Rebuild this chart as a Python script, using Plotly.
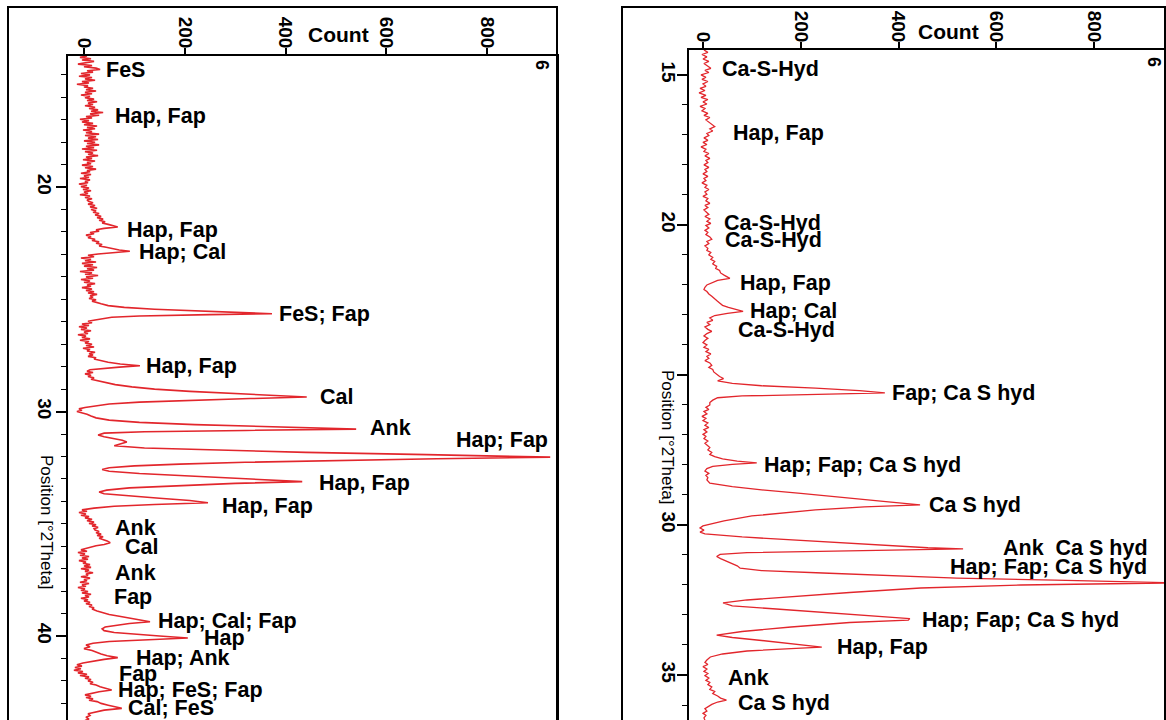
import plotly.graph_objects as go

# ---------------- data: left pattern ----------------
left_theta = [14.16,14.22,14.28,14.34,14.40,14.46,14.52,14.58,14.64,14.70,14.76,14.82,14.88,14.94,15.00,15.06,15.12,15.18,15.24,15.30,
15.36,15.42,15.48,15.54,15.60,15.66,15.72,15.78,15.84,15.90,15.96,16.02,16.08,16.14,16.20,16.26,16.32,16.38,16.44,16.50,
16.56,16.62,16.68,16.74,16.80,16.86,16.92,16.98,17.04,17.10,17.16,17.22,17.28,17.34,17.40,17.46,17.52,17.58,17.64,17.70,
17.76,17.82,17.88,17.94,18.00,18.06,18.12,18.18,18.24,18.30,18.36,18.42,18.48,18.54,18.60,18.66,18.72,18.78,18.84,18.90,
18.96,19.02,19.08,19.14,19.20,19.26,19.32,19.38,19.44,19.50,19.56,19.62,19.68,19.74,19.80,19.86,19.92,19.98,20.04,20.10,
20.16,20.22,20.28,20.34,20.40,20.46,20.52,20.58,20.64,20.70,20.76,20.82,20.88,20.94,21.00,21.06,21.12,21.18,21.24,21.30,
21.36,21.42,21.48,21.54,21.60,21.66,21.72,21.78,21.84,21.90,21.96,22.02,22.08,22.14,22.20,22.26,22.32,22.38,22.44,22.50,
22.56,22.62,22.68,22.74,22.80,22.86,22.92,22.98,23.04,23.10,23.16,23.22,23.28,23.34,23.40,23.46,23.52,23.58,23.64,23.70,
23.76,23.82,23.88,23.94,24.00,24.06,24.12,24.18,24.24,24.30,24.36,24.42,24.48,24.54,24.60,24.66,24.72,24.78,24.84,24.90,
24.96,25.02,25.08,25.14,25.20,25.28,25.36,25.44,25.52,25.60,25.64,25.68,25.74,25.80,25.86,25.92,25.98,26.04,26.10,26.16,
26.22,26.28,26.34,26.40,26.46,26.52,26.58,26.64,26.70,26.76,26.82,26.88,26.94,27.00,27.06,27.12,27.18,27.24,27.30,27.36,
27.42,27.48,27.54,27.60,27.66,27.72,27.80,27.88,27.96,28.02,28.08,28.14,28.20,28.26,28.32,28.38,28.44,28.50,28.56,28.62,
28.70,28.80,28.90,29.00,29.10,29.20,29.28,29.35,29.42,29.50,29.58,29.66,29.74,29.82,29.88,29.94,30.00,30.06,30.12,30.20,
30.28,30.38,30.48,30.58,30.66,30.72,30.78,30.84,30.90,30.96,31.04,31.12,31.20,31.28,31.36,31.44,31.52,31.62,31.72,31.82,
31.92,32.03,32.10,32.18,32.26,32.34,32.42,32.50,32.58,32.66,32.76,32.86,32.96,33.05,33.12,33.20,33.30,33.40,33.50,33.58,
33.66,33.76,33.86,33.96,34.06,34.14,34.22,34.30,34.38,34.44,34.50,34.56,34.62,34.68,34.74,34.80,34.86,34.92,34.98,35.04,
35.10,35.16,35.22,35.28,35.34,35.40,35.46,35.52,35.58,35.64,35.70,35.76,35.84,35.92,35.98,36.04,36.10,36.16,36.22,36.28,
36.34,36.40,36.46,36.52,36.58,36.64,36.70,36.76,36.82,36.88,36.94,37.00,37.06,37.12,37.18,37.24,37.30,37.36,37.42,37.48,
37.54,37.60,37.66,37.72,37.78,37.84,37.90,37.96,38.02,38.08,38.14,38.20,38.26,38.32,38.38,38.44,38.50,38.56,38.62,38.68,
38.74,38.80,38.88,38.96,39.04,39.12,39.20,39.28,39.36,39.44,39.52,39.60,39.68,39.76,39.84,39.92,40.00,40.09,40.16,40.24,
40.32,40.40,40.48,40.56,40.64,40.72,40.80,40.88,40.96,41.04,41.12,41.20,41.28,41.34,41.40,41.46,41.52,41.58,41.64,41.70,
41.76,41.82,41.88,41.94,42.00,42.06,42.12,42.18,42.26,42.34,42.40,42.48,42.56,42.62,42.68,42.74,42.80,42.86,42.92,43.00,
43.08,43.16,43.22,43.30,43.38,43.46,43.54,43.62,43.70,43.76]
left_count = [6,-8,14,-4,20,2,-12,16,0,24,32,6,18,-6,12,-10,16,2,22,-4,
10,-14,8,0,18,4,24,2,16,-6,12,2,20,6,26,8,18,2,22,10,
28,14,38,12,30,4,16,-8,10,-4,18,0,26,6,22,-2,16,4,30,2,
24,8,28,0,22,6,30,4,20,-4,26,2,18,8,28,4,16,-2,22,6,
14,-4,18,2,24,6,12,-6,14,0,10,-8,12,2,8,-10,6,-6,10,-2,
14,0,8,-8,12,2,16,6,10,18,8,22,12,26,14,24,18,30,22,34,
26,38,30,42,36,48,56,67,40,24,30,12,20,4,14,8,22,16,30,24,
36,30,44,56,70,91,56,28,8,20,-6,14,2,24,-4,18,0,26,6,20,
-8,16,2,28,4,18,-6,12,0,22,6,14,-4,16,4,20,8,26,12,18,
10,24,16,28,34,48,80,140,240,330,373,250,110,55,34,22,8,16,-4,10,
-10,6,-6,14,0,8,-12,4,-4,12,-8,10,2,16,4,20,-2,12,6,22,
10,18,8,24,20,32,48,72,111,70,34,12,6,18,2,14,8,20,14,26,
40,62,95,140,210,300,380,442,330,200,110,50,20,2,-10,-4,-14,-2,6,14,
24,50,110,220,340,440,540,320,120,40,28,40,60,76,85,70,60,120,260,440,
680,925,700,480,320,190,100,50,36,50,110,200,300,380,433,300,180,90,45,30,
40,90,150,210,246,140,60,20,-4,6,-10,4,-6,10,2,16,6,20,10,24,
16,28,20,22,30,24,34,26,38,30,40,46,52,40,24,14,4,-6,6,-12,
2,-8,10,-4,8,-10,4,-2,12,0,14,-6,10,2,18,4,8,-6,12,0,
6,-8,10,-4,4,-12,2,-6,8,-4,14,2,10,-6,8,0,12,4,16,10,
20,16,26,36,50,70,90,112,131,90,60,42,36,40,60,100,150,206,120,50,
18,4,12,0,16,24,34,46,67,40,16,-2,-14,-4,-18,-6,-20,-2,-12,6,
-8,10,2,14,8,18,12,24,32,44,55,30,12,2,14,4,18,10,26,34,
48,62,75,40,20,8,12,4,10,2]

# ---------------- data: right pattern ----------------
right_theta = [14.17,14.25,14.32,14.40,14.47,14.55,14.62,14.70,14.78,14.85,14.92,15.00,15.08,15.15,15.22,15.30,15.38,15.45,15.52,15.60,
15.68,15.75,15.82,15.90,15.97,16.05,16.12,16.20,16.28,16.35,16.42,16.50,16.57,16.65,16.72,16.80,16.87,16.95,17.02,17.10,
17.18,17.25,17.32,17.40,17.48,17.55,17.62,17.70,17.78,17.85,17.92,18.00,18.08,18.15,18.22,18.30,18.38,18.45,18.52,18.60,
18.68,18.75,18.82,18.90,18.98,19.05,19.12,19.20,19.28,19.35,19.42,19.50,19.58,19.65,19.72,19.80,19.88,19.95,20.02,20.10,
20.18,20.25,20.32,20.40,20.48,20.55,20.62,20.70,20.78,20.85,20.92,21.00,21.08,21.15,21.22,21.30,21.38,21.45,21.52,21.60,
21.68,21.78,21.85,21.92,22.00,22.08,22.15,22.22,22.30,22.38,22.45,22.52,22.60,22.68,22.75,22.82,22.88,22.95,23.02,23.10,
23.18,23.25,23.32,23.40,23.48,23.55,23.62,23.70,23.78,23.85,23.92,24.00,24.08,24.15,24.22,24.30,24.38,24.45,24.52,24.60,
24.68,24.75,24.82,24.90,24.98,25.05,25.12,25.20,25.28,25.36,25.44,25.52,25.60,25.65,25.70,25.76,25.84,25.92,26.00,26.08,
26.15,26.22,26.30,26.38,26.45,26.52,26.60,26.68,26.75,26.82,26.90,26.98,27.05,27.12,27.20,27.28,27.35,27.42,27.50,27.58,
27.65,27.72,27.80,27.87,27.93,27.98,28.05,28.12,28.20,28.28,28.35,28.42,28.50,28.61,28.72,28.83,28.95,29.05,29.15,29.25,
29.33,29.40,29.50,29.58,29.70,29.86,29.95,30.03,30.10,30.17,30.24,30.30,30.40,30.50,30.60,30.70,30.76,30.80,30.86,30.92,
30.98,31.05,31.12,31.20,31.28,31.36,31.44,31.52,31.60,31.68,31.77,31.84,31.89,31.93,32.00,32.10,32.25,32.40,32.50,32.60,
32.70,32.80,32.90,33.00,33.12,33.17,33.25,33.40,33.55,33.67,33.75,33.85,33.95,34.03,34.07,34.12,34.20,34.30,34.40,34.50,
34.58,34.65,34.72,34.80,34.88,34.95,35.02,35.10,35.18,35.25,35.32,35.40,35.48,35.55,35.62,35.70,35.77,35.84,35.90,35.98,
36.05,36.12,36.20,36.28,36.35,36.43,36.50]
right_count = [2,10,-2,8,0,12,2,8,16,4,12,-4,6,-2,10,0,6,-6,4,-8,
6,-4,10,0,8,-6,4,-2,10,2,14,6,12,18,24,14,20,8,12,2,
10,0,8,-4,6,2,12,4,14,6,10,2,12,4,8,0,10,2,6,-2,
8,4,12,4,8,0,10,6,14,4,10,2,8,12,4,14,8,16,6,12,
4,10,6,14,18,8,12,4,10,8,16,12,20,16,24,20,28,26,34,36,
44,55,30,18,8,4,2,8,12,18,22,28,34,40,52,66,82,50,24,14,
20,8,14,4,10,18,8,2,10,4,0,8,2,12,6,16,8,12,4,14,
18,12,20,22,28,34,42,30,60,120,230,320,372,200,80,30,20,14,14,6,
12,2,8,-2,6,0,10,4,12,2,8,0,6,2,10,4,8,14,10,18,
14,24,40,70,110,60,20,8,4,12,6,10,8,14,60,120,200,260,330,390,
444,330,230,178,100,43,18,0,-6,2,-6,4,80,180,280,390,460,532,300,90,
35,28,36,48,60,70,76,120,245,380,519,720,860,960,650,445,300,178,90,41,
60,150,240,330,423,420,300,180,80,28,60,120,180,230,243,180,90,40,15,8,
4,10,0,8,2,10,4,12,6,14,10,18,14,24,20,30,36,48,30,18,
10,4,8,0,6,2,4]

# ---------------- peak labels ----------------
left_labels = ["FeS","Hap, Fap","Hap, Fap","Hap; Cal","FeS; Fap","Hap, Fap","Cal","Ank","Hap; Fap","Hap, Fap","Hap, Fap",
               "Ank","Cal","Ank","Fap","Hap; Cal; Fap","Hap","Hap; Ank","Fap","Hap; FeS; Fap","Cal; FeS"]
left_label_count = [42,60,83,107,385,121,466,565,736,464,272,60,79,60,58,145,236,101,68,66,85]
left_label_theta = [14.79,16.84,21.92,22.90,25.66,27.97,29.35,30.73,31.27,33.18,34.21,35.19,36.04,37.19,38.26,39.33,40.09,40.98,41.69,42.40,43.20]

right_labels = ["Ca-S-Hyd","Hap, Fap","Ca-S-Hyd","Ca-S-Hyd","Hap, Fap","Hap; Cal","Ca-S-Hyd","Fap; Ca S hyd",
                "Hap; Fap; Ca S hyd","Ca S hyd","Ank\u00a0\u00a0Ca S hyd","Hap; Fap; Ca S hyd","Hap; Fap; Ca S hyd",
                "Hap, Fap","Ank","Ca S hyd"]
right_label_count = [37,59,40,42,74,95,70,385,123,461,611,504,445,272,50,70]
right_label_theta = [14.81,16.94,19.92,20.50,21.92,22.86,23.50,25.60,28.00,29.33,30.78,31.39,33.17,34.06,35.11,35.94]

left_xticks = [0, 200, 400, 600, 800]
right_xticks = [0, 200, 400, 600, 800]
left_yticks = [20, 30, 40]
left_yticktext = ["20", "30", "40"]
right_yticks = [15, 20, 25, 30, 35]
right_yticktext = ["15", "20", "", "30", "35"]

# ---------------- figure ----------------
W, H = 1166, 720
RED = "#e2262c"
FONT = "Liberation Sans, Arial, Helvetica, sans-serif"

def px(x):
    return x / W

def py(y):
    return 1 - y / H

fig = go.Figure()
fig.add_trace(go.Scatter(x=left_count, y=left_theta, mode="lines",
                         line=dict(color=RED, width=1.6), xaxis="x", yaxis="y", hoverinfo="skip"))
fig.add_trace(go.Scatter(x=right_count, y=right_theta, mode="lines",
                         line=dict(color=RED, width=1.3), xaxis="x2", yaxis="y2", hoverinfo="skip"))

tickfont = dict(family=FONT, size=19, color="black", weight="bold")
common_x = dict(side="top", ticks="outside", ticklen=6, tickwidth=1.5, tickcolor="black",
                tickangle=90, tickfont=tickfont, showline=True, linewidth=2, linecolor="black",
                showgrid=False, zeroline=False, ticklabelstandoff=-7)
common_y = dict(ticks="outside", ticklen=10, tickwidth=1.5, tickcolor="black", tickangle=90,
                tickfont=tickfont, showline=True, linewidth=2, linecolor="black", mirror=True,
                showgrid=False, zeroline=False,
                minor=dict(ticks="outside", dtick=1, tick0=0, ticklen=5, tickwidth=1.2, tickcolor="black"))

fig.update_layout(
    width=W, height=H, margin=dict(l=0, r=0, t=0, b=0, pad=0),
    paper_bgcolor="white", plot_bgcolor="white", showlegend=False,
    xaxis=dict(domain=[px(68), px(557)], anchor="y", range=[-31.7, 938.5],
               tickvals=left_xticks, **common_x),
    yaxis=dict(domain=[0, py(56)], anchor="x", range=[43.74, 14.16],
               tickvals=left_yticks, ticktext=left_yticktext, ticklabelstandoff=-5, **common_y),
    xaxis2=dict(domain=[px(689), px(1165)], anchor="y2", range=[-28.6, 945],
                tickvals=right_xticks, **common_x),
    yaxis2=dict(domain=[0, py(50)], anchor="x2", range=[36.5, 14.17],
                tickvals=right_yticks, ticktext=right_yticktext, ticklabelstandoff=-8, **common_y),
)

# outer frames
for x0, x1 in [(8, 557), (622, 1165)]:
    fig.add_shape(type="rect", xref="paper", yref="paper", x0=px(x0), x1=px(x1), y0=-0.05, y1=py(7),
                  line=dict(color="black", width=2), fillcolor="rgba(0,0,0,0)", layer="above")

lab_font = dict(family=FONT, size=21.5, color="black", weight="bold")
for t, c, th in zip(left_labels, left_label_count, left_label_theta):
    fig.add_annotation(x=c, y=th, xref="x", yref="y", text=t, showarrow=False,
                       xanchor="left", yanchor="middle", font=lab_font, borderpad=0)
for t, c, th in zip(right_labels, right_label_count, right_label_theta):
    fig.add_annotation(x=c, y=th, xref="x2", yref="y2", text=t, showarrow=False,
                       xanchor="left", yanchor="middle", font=lab_font, borderpad=0)

# axis titles & panel marks
for cx, cy in [(338, 34), (948, 32)]:
    fig.add_annotation(x=px(cx), y=py(cy), xref="paper", yref="paper", text="Count", showarrow=False,
                       xanchor="center", yanchor="middle", font=dict(family=FONT, size=21, color="black", weight="bold"))
for cx, cy in [(47, 522), (667, 437)]:
    fig.add_annotation(x=px(cx), y=py(cy), xref="paper", yref="paper", text="Position [°2Theta]",
                       showarrow=False, textangle=90, xanchor="center", yanchor="middle",
                       font=dict(family=FONT, size=17, color="black"))
for cx, cy in [(542, 65), (1154, 62)]:
    fig.add_annotation(x=px(cx), y=py(cy), xref="paper", yref="paper", text="6", showarrow=False,
                       textangle=90, xanchor="center", yanchor="middle",
                       font=dict(family=FONT, size=18, color="black", weight="bold"))

fig.write_html("out.html", config={"displayModeBar": False},
               post_script="document.body.style.margin='0px';document.body.style.padding='0px';"
                           "document.body.style.overflow='hidden';")
